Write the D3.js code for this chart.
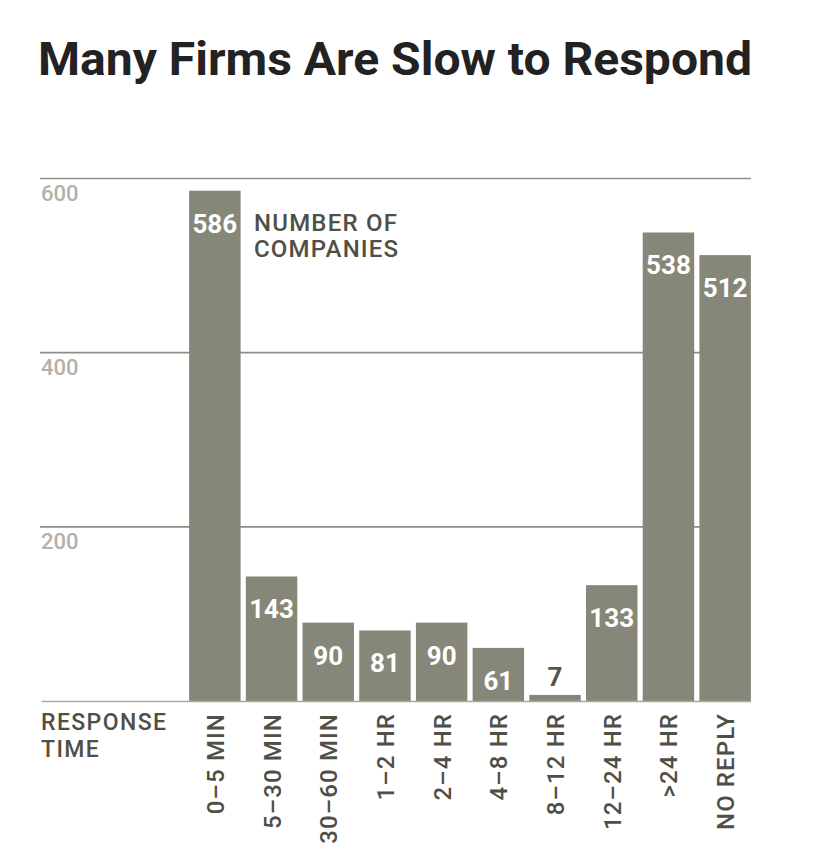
<!DOCTYPE html>
<html>
<head>
<meta charset="utf-8">
<script src="https://cdn.jsdelivr.net/npm/d3@7"></script>
<style>
  body { margin: 0; background: #fff; }
  svg { display: block; font-family: Roboto, "Noto Sans", sans-serif; }
</style>
</head>
<body>
<svg id="chart" width="826" height="860"></svg>
<script>
// Data
const categories = ["0\u20135 MIN", "5\u201330 MIN", "30\u201360 MIN", "1\u20132 HR", "2\u20134 HR",
                    "4\u20138 HR", "8\u201312 HR", "12\u201324 HR", ">24 HR", "NO REPLY"];
const counts     = [586, 143, 90, 81, 90, 61, 7, 133, 538, 512];
const yTicks     = [200, 400, 600];

const svg = d3.select("#chart");

// Scales
const x = d3.scaleBand()
  .domain(categories)
  .range([186.5, 753.5])
  .paddingInner(0.092)
  .paddingOuter(0.046);

const y = d3.scaleLinear()
  .domain([0, 600])
  .range([701, 178.5]);

// Title
svg.append("text")
  .attr("x", 38).attr("y", 75)
  .attr("font-size", 46).attr("font-weight", 700)
  .attr("fill", "#222")
  .attr("textLength", 714).attr("lengthAdjust", "spacingAndGlyphs")
  .text("Many Firms Are Slow to Respond");

// Gridlines + tick labels
const grid = svg.append("g");
grid.selectAll("line")
  .data(yTicks)
  .join("line")
    .attr("x1", 40).attr("x2", 751)
    .attr("y1", d => y(d)).attr("y2", d => y(d))
    .attr("stroke", "#8e8e86").attr("stroke-width", 1.6);
grid.selectAll("text")
  .data(yTicks)
  .join("text")
    .attr("x", 41).attr("y", d => y(d) + 22)
    .attr("font-size", 22).attr("font-weight", 500)
    .attr("fill", "#b2b2aa")
    .text(d => d);

// Bars
svg.append("g").selectAll("rect")
  .data(counts)
  .join("rect")
    .attr("x", (d, i) => x(categories[i]))
    .attr("y", d => y(d))
    .attr("width", x.bandwidth())
    .attr("height", d => y(0) - y(d))
    .attr("fill", "#878779");

// Baseline
svg.append("line")
  .attr("x1", 42).attr("x2", 751)
  .attr("y1", y(0) + 0.5).attr("y2", y(0) + 0.5)
  .attr("stroke", "#a8a8a0").attr("stroke-width", 1.6);

// Value labels
svg.append("g").selectAll("text")
  .data(counts)
  .join("text")
    .attr("x", (d, i) => x(categories[i]) + x.bandwidth() / 2)
    .attr("y", d => d < 30 ? y(d) - 9 : y(d) + 42)
    .attr("text-anchor", "middle")
    .attr("font-size", 26).attr("font-weight", 700)
    .attr("fill", d => d < 30 ? "#55554c" : "#fff")
    .text(d => d);

// Series label
const lab = svg.append("text")
  .attr("x", 254).attr("y", 231)
  .attr("font-size", 24).attr("font-weight", 500)
  .attr("letter-spacing", 1.2)
  .attr("fill", "#4f4f47");
lab.append("tspan").attr("x", 254).text("NUMBER OF");
lab.append("tspan").attr("x", 254).attr("dy", 26).text("COMPANIES");

// Axis label
const axl = svg.append("text")
  .attr("x", 41).attr("y", 730)
  .attr("font-size", 23).attr("font-weight", 500)
  .attr("letter-spacing", 1.4)
  .attr("fill", "#4f4f47");
axl.append("tspan").attr("x", 41).text("RESPONSE");
axl.append("tspan").attr("x", 41).attr("dy", 27).text("TIME");

// Category labels (rotated)
svg.append("g").selectAll("text")
  .data(categories)
  .join("text")
    .attr("transform", d => `translate(${x(d) + x.bandwidth() / 2 + 9},713) rotate(-90)`)
    .attr("text-anchor", "end")
    .attr("font-size", 24).attr("font-weight", 500)
    .attr("letter-spacing", 1.1)
    .attr("fill", "#4f4f47")
    .text(d => d);
</script>
</body>
</html>
